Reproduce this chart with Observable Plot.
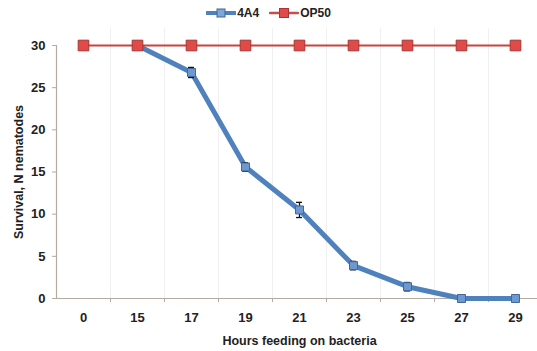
<!DOCTYPE html>
<html><head><meta charset="utf-8">
<script src="https://cdn.jsdelivr.net/npm/d3@7"></script>
<script src="https://cdn.jsdelivr.net/npm/@observablehq/plot@0.6"></script>
<style>
body{margin:0;background:#fff;font-family:"Liberation Sans",Arial,sans-serif;}
#wrap{position:relative;width:537px;height:351px;overflow:hidden;}
#legend{position:absolute;top:4px;left:0;width:537px;height:18px;display:flex;justify-content:center;align-items:center;gap:10px;font-weight:bold;font-size:12px;color:#222;box-sizing:border-box;}
.item{display:flex;align-items:center;gap:1px;}
#chart{position:absolute;top:26px;left:0;}
</style></head><body>
<div id="wrap">
<div id="legend"></div>
<div id="chart"></div>
</div>
<script>
const hours = ["0","15","17","19","21","23","25","27","29"];
const survival4A4 = [null,30,26.8,15.6,10.5,3.9,1.4,0,0];
const error4A4 = [null,0,0.6,0.5,0.9,0.5,0.5,0,0];
const survivalOP50 = [30,30,30,30,30,30,30,30,30];
const yTicks = [0,5,10,15,20,25,30];

const blue = "#4f81bd";
const d4 = hours.map((h,i)=>({i, h, v: survival4A4[i], e: error4A4[i]})).filter(d=>d.v!==null);
const dOP = hours.map((h,i)=>({i, h, v: survivalOP50[i]}));
const errs = d4.filter(d=>d.e>0);
const idx = hours.map((h,i)=>i);
const edges = hours.map((h,i)=>i+0.5);

// legend
const leg = document.getElementById("legend");
[["4A4",blue,"#7fa6d8","#3e6796",8],["OP50","#c0504d","#e04a48","#a83532",9]].forEach(([name,line,fill,stroke,s])=>{
  const it=document.createElement("div");it.className="item";
  it.innerHTML=`<svg width="30" height="12"><line x1="1" x2="29" y1="6" y2="6" stroke="${line}" stroke-width="${name==="4A4"?4:2.5}" stroke-linecap="round"/><rect x="${15-s/2}" y="${6-s/2}" width="${s}" height="${s}" fill="${fill}" stroke="${stroke}" stroke-width="1"/></svg><span>${name}</span>`;
  leg.appendChild(it);
});

const chart = Plot.plot({
  width: 537, height: 325,
  marginLeft: 56, marginRight: 0, marginTop: 19, marginBottom: 53,
  style: {fontFamily: '"Liberation Sans", Arial, sans-serif', fontWeight: "bold", fontSize: "13px", color: "#222", background: "#fff"},
  x: {type: "linear", domain: [-0.5, 8.5], range: [56, 542]},
  y: {domain: [0, 30], range: [272, 19]},
  marks: [
    Plot.ruleX(edges, {x: d=>d, y1: 0, y2: 32, stroke: "#f0f0f0", strokeWidth: 1}),
    Plot.ruleY([0], {stroke: "#b3aaa0", strokeWidth: 1.2}),
    Plot.ruleX([-0.5], {y1: 0, y2: 30, stroke: "#b3aaa0", strokeWidth: 1.2}),
    Plot.axisX(edges, {tickSize: 4, stroke: "#b3aaa0", text: null, label: null}),
    Plot.axisX(idx, {tickSize: 0, tickPadding: 14, tickFormat: i=>hours[i], label: null, fontSize: 13}),
    Plot.text(["Hours feeding on bacteria"], {x: 4, y: 0, dy: 42, text: d=>d, fontSize: 12.5, fontWeight: "bold"}),
    Plot.axisY(yTicks, {tickSize: 4, tickPadding: 7, stroke: "#b3aaa0", label: null, fontSize: 13}),
    Plot.text(["Survival, N nematodes"], {x: -0.5, y: 15, dx: -38, rotate: -90, text: d=>d, fontSize: 12.5, fontWeight: "bold"}),
    Plot.line(d4, {x: "i", y: "v", stroke: blue, strokeWidth: 5, strokeLinejoin: "round", strokeLinecap: "round"}),
    Plot.ruleX(errs, {x: "i", y1: d=>d.v-d.e, y2: d=>d.v+d.e, stroke: "#111", strokeWidth: 1.3}),
    Plot.ruleY(errs, {y: d=>d.v+d.e, x1: d=>d.i-0.055, x2: d=>d.i+0.055, stroke: "#111", strokeWidth: 1.3}),
    Plot.ruleY(errs, {y: d=>d.v-d.e, x1: d=>d.i-0.055, x2: d=>d.i+0.055, stroke: "#111", strokeWidth: 1.3}),
    Plot.dot(d4, {x: "i", y: "v", symbol: "square", r: 4.5, fill: "#6f98d0", stroke: "#40689a", strokeWidth: 1}),
    Plot.line(dOP, {x: "i", y: "v", stroke: "#c8453f", strokeWidth: 2}),
    Plot.dot(dOP, {x: "i", y: "v", symbol: "square", r: 6, fill: "#e04a48", stroke: "#a83532", strokeWidth: 1})
  ]
});
document.getElementById("chart").appendChild(chart);
</script>
</body></html>
